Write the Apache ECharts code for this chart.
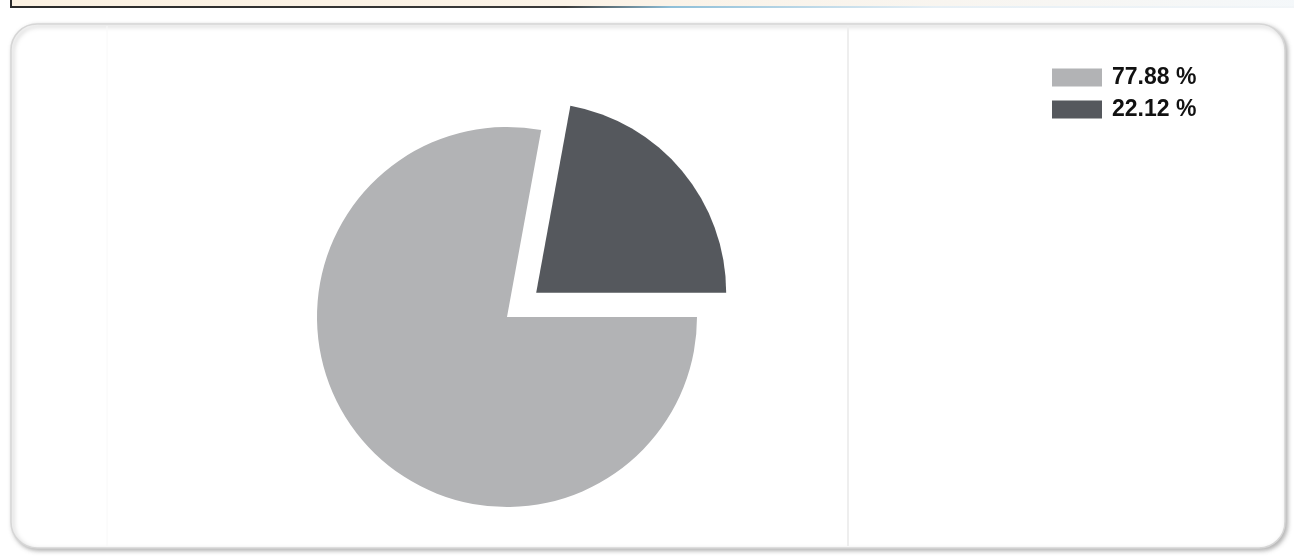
<!DOCTYPE html>
<html>
<head>
<meta charset="utf-8">
<script src="https://cdn.jsdelivr.net/npm/echarts@6/dist/echarts.min.js"></script>
<style>
  html, body { margin: 0; padding: 0; background: #ffffff; }
  #chart { width: 1294px; height: 556px; }
</style>
</head>
<body>
<div id="chart"></div>
<script>
// Share of the two groups, in percent
const sliceNames = ['77.88 %', '22.12 %'];
const sliceValues = [77.88, 22.12];
const sliceColors = ['#b2b3b5', '#55585d'];
// The smaller share is pulled out of the pie
const pulledOut = [false, true];

const chart = echarts.init(document.getElementById('chart'), null, { renderer: 'canvas' });

const pieData = sliceNames.map((name, i) => ({
  name: name,
  value: sliceValues[i],
  selected: pulledOut[i],
  itemStyle: { color: sliceColors[i] }
}));

chart.setOption({
  animation: false,
  backgroundColor: '#ffffff',
  graphic: [
    // edge of the panel above
    {
      type: 'rect',
      z: 0,
      shape: { x: 11, y: -30, width: 1320, height: 37 },
      style: {
        fill: new echarts.graphic.LinearGradient(0, 0, 1, 0, [
          { offset: 0, color: '#fbf1e2' },
          { offset: 0.5, color: '#fbf3e8' },
          { offset: 1, color: '#f4f8fb' }
        ]),
        stroke: new echarts.graphic.LinearGradient(0, 0, 1, 0, [
          { offset: 0, color: '#2a2a2a' },
          { offset: 0.42, color: '#3a3a3a' },
          { offset: 0.5, color: '#8fbfd8' },
          { offset: 0.7, color: '#e6eff5' },
          { offset: 1, color: '#f3f6f8' }
        ]),
        lineWidth: 2
      }
    },
    // rounded frame around the chart
    {
      type: 'rect',
      z: 0,
      shape: { x: 11, y: 24, width: 1274, height: 524, r: 26 },
      style: {
        fill: '#ffffff',
        stroke: '#d6d6d6',
        lineWidth: 1.5,
        shadowColor: 'rgba(0,0,0,0.28)',
        shadowBlur: 4,
        shadowOffsetX: 2,
        shadowOffsetY: 2
      }
    },
    // faint divider lines
    {
      type: 'line',
      z: 1,
      shape: { x1: 848, y1: 26, x2: 848, y2: 546 },
      style: { stroke: '#eeeeee', lineWidth: 2 }
    },
    {
      type: 'line',
      z: 1,
      shape: { x1: 107, y1: 26, x2: 107, y2: 546 },
      style: { stroke: '#f8f8f8', lineWidth: 1 }
    }
  ],
  legend: {
    orient: 'vertical',
    left: 1052,
    top: 66,
    padding: 0,
    itemWidth: 50,
    itemHeight: 18,
    itemGap: 9,
    icon: 'rect',
    selectedMode: false,
    data: sliceNames,
    textStyle: {
      fontFamily: 'Liberation Sans, Arial, sans-serif',
      fontWeight: 'bold',
      fontSize: 23,
      lineHeight: 23,
      color: '#111111',
      padding: [0, 0, 0, 5]
    }
  },
  series: [
    {
      type: 'pie',
      center: [507, 317],
      radius: 190,
      startAngle: 79.632,
      clockwise: false,
      selectedMode: 'single',
      selectedOffset: 38,
      label: { show: false },
      labelLine: { show: false },
      emphasis: { disabled: true },
      itemStyle: { borderWidth: 0 },
      data: pieData
    }
  ]
});
</script>
</body>
</html>
